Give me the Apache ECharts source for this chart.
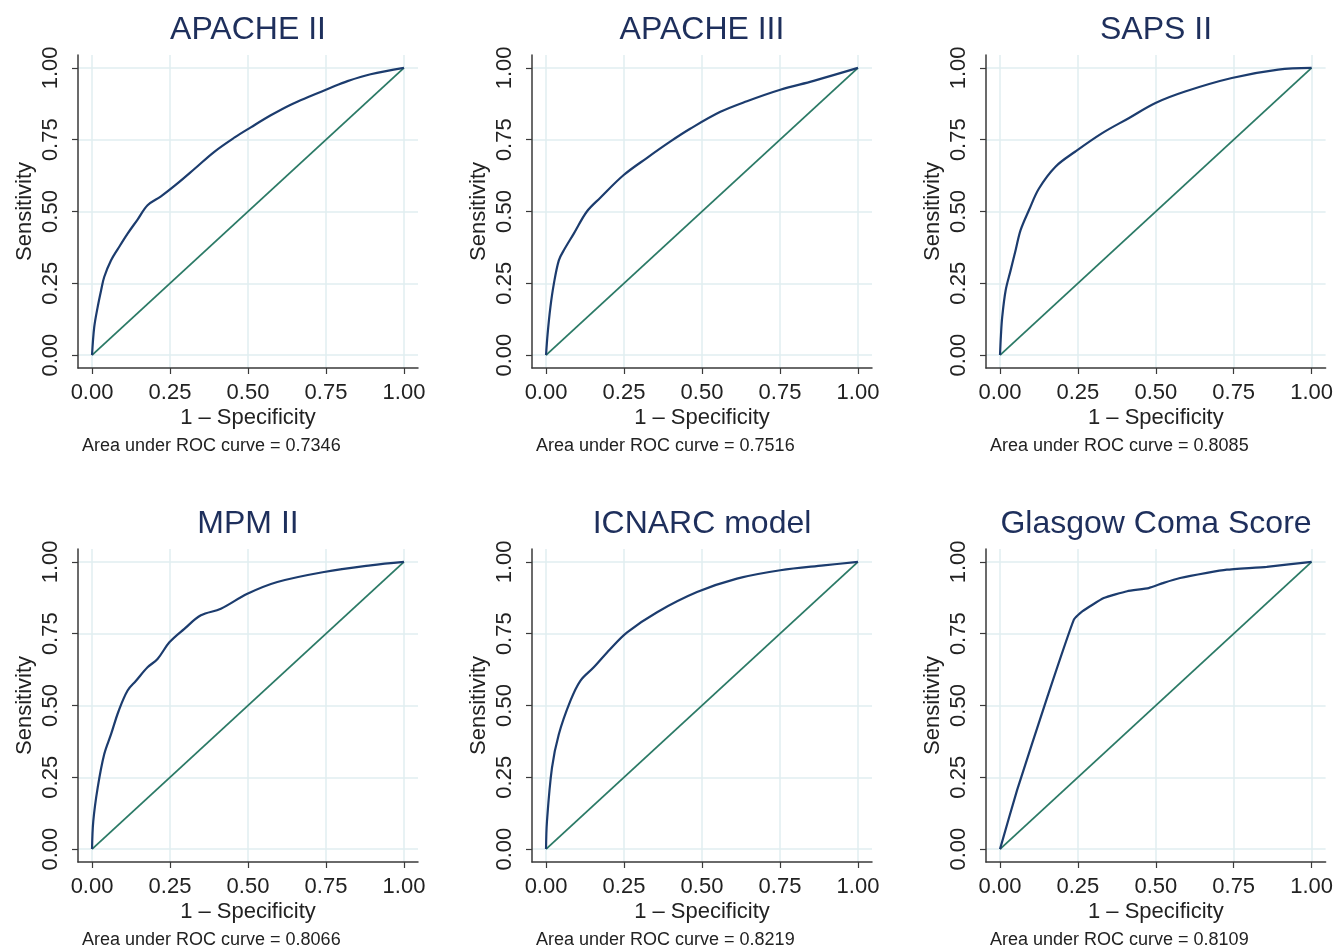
<!DOCTYPE html>
<html>
<head>
<meta charset="utf-8">
<script src="https://cdn.jsdelivr.net/npm/echarts@6/dist/echarts.min.js"></script>
<style>
html,body{margin:0;padding:0;background:#fff;}
#chart{width:1336px;height:949px;}
</style>
</head>
<body>
<div id="chart"></div>
<script>
// ---- data ----
const panelTitles = ["APACHE II", "APACHE III", "SAPS II", "MPM II", "ICNARC model", "Glasgow Coma Score"];
const aucLabels = ["0.7346", "0.7516", "0.8085", "0.8066", "0.8219", "0.8109"];
const tickValues = [0, 0.25, 0.5, 0.75, 1];
const diagX = [0, 1];
const diagY = [0, 1];

const apache2X = [0, 0.007, 0.018, 0.029, 0.039, 0.061, 0.082, 0.114, 0.146, 0.178, 0.221, 0.274, 0.328, 0.392, 0.456, 0.509, 0.573, 0.637, 0.701, 0.765, 0.819, 0.893, 1];
const apache2Y = [0, 0.097, 0.167, 0.225, 0.272, 0.330, 0.368, 0.423, 0.472, 0.522, 0.553, 0.598, 0.648, 0.708, 0.757, 0.793, 0.835, 0.872, 0.902, 0.931, 0.954, 0.978, 1];

const apache3X = [0, 0.005, 0.014, 0.025, 0.041, 0.057, 0.089, 0.131, 0.174, 0.249, 0.324, 0.399, 0.462, 0.559, 0.644, 0.751, 0.858, 1];
const apache3Y = [0, 0.073, 0.167, 0.248, 0.330, 0.365, 0.423, 0.500, 0.548, 0.627, 0.687, 0.744, 0.788, 0.847, 0.884, 0.924, 0.955, 1];

const saps2X = [0, 0.003, 0.007, 0.018, 0.034, 0.05, 0.066, 0.093, 0.125, 0.178, 0.242, 0.328, 0.413, 0.499, 0.594, 0.744, 0.893, 1];
const saps2Y = [0, 0.07, 0.132, 0.225, 0.295, 0.365, 0.435, 0.505, 0.58, 0.656, 0.709, 0.773, 0.825, 0.878, 0.918, 0.965, 0.994, 1];

const mpm2X = [0, 0.004, 0.018, 0.039, 0.061, 0.085, 0.114, 0.141, 0.178, 0.210, 0.248, 0.296, 0.349, 0.413, 0.498, 0.594, 0.744, 0.893, 1];
const mpm2Y = [0, 0.097, 0.213, 0.330, 0.400, 0.48, 0.552, 0.586, 0.633, 0.662, 0.720, 0.767, 0.814, 0.837, 0.889, 0.930, 0.965, 0.988, 1];

const icnarcX = [0, 0.003, 0.019, 0.041, 0.078, 0.110, 0.153, 0.206, 0.260, 0.356, 0.484, 0.612, 0.751, 0.890, 1];
const icnarcY = [0, 0.097, 0.283, 0.400, 0.516, 0.586, 0.633, 0.697, 0.755, 0.825, 0.895, 0.942, 0.971, 0.988, 1];

const gcsX = [0, 0.055, 0.152, 0.237, 0.264, 0.333, 0.408, 0.477, 0.525, 0.578, 0.664, 0.728, 0.856, 1];
const gcsY = [0, 0.206, 0.53, 0.799, 0.828, 0.874, 0.898, 0.909, 0.927, 0.944, 0.962, 0.973, 0.983, 1];

const curvesX = [apache2X, apache3X, saps2X, mpm2X, icnarcX, gcsX];
const curvesY = [apache2Y, apache3Y, saps2Y, mpm2Y, icnarcY, gcsY];

// ---- layout / style ----
const FONT = "'Liberation Sans', Arial, Helvetica, sans-serif";
const TITLE_COLOR = "#1e2f5c";
const CURVE_COLOR = "#1c3c6e";
const DIAG_COLOR = "#2b7a66";
const GRID_COLOR = "#e0eef1";
const AXIS_COLOR = "#3a3a3a";
const TEXT_COLOR = "#222222";

const colStep = 454, rowStep = 494;
const baseLeft = 78, baseTop = 55, gridW = 340, gridH = 313;

const grids = [], xAxes = [], yAxes = [], series = [], graphics = [];
for (let i = 0; i < 6; i++) {
  const c = i % 3, r = Math.floor(i / 3);
  const left = baseLeft + c * colStep, top = baseTop + r * rowStep;
  grids.push({ left: left, top: top, width: gridW, height: gridH, containLabel: false });
  const common = {
    type: 'value', min: -0.045, max: 1.045, gridIndex: i,
    axisLine: { show: true, onZero: false, lineStyle: { color: AXIS_COLOR, width: 1.5 } },
    axisTick: { show: true, inside: false, length: 6, customValues: tickValues, lineStyle: { color: AXIS_COLOR, width: 1.2 } },
    splitLine: { show: true, lineStyle: { color: GRID_COLOR, width: 1.5 } },
    nameLocation: 'middle',
    nameTextStyle: { fontFamily: FONT, fontSize: 22, color: TEXT_COLOR }
  };
  xAxes.push(Object.assign({}, common, {
    name: '1 \u2013 Specificity', nameGap: 39,
    axisLabel: { customValues: tickValues, margin: 14, fontFamily: FONT, fontSize: 22, color: TEXT_COLOR,
      formatter: v => v.toFixed(2) }
  }));
  yAxes.push(Object.assign({}, common, {
    name: 'Sensitivity', nameGap: 42,
    axisLabel: { customValues: tickValues, margin: 16, rotate: 90, fontFamily: FONT, fontSize: 22, color: TEXT_COLOR,
      formatter: v => v.toFixed(2) }
  }));
  series.push({
    type: 'line', xAxisIndex: i, yAxisIndex: i, showSymbol: false, symbol: 'none',
    smooth: i === 5 ? 0.15 : 0.35,
    lineStyle: { color: CURVE_COLOR, width: 2.2 },
    data: curvesX[i].map((x, k) => [x, curvesY[i][k]]), z: 3, silent: true
  });
  series.push({
    type: 'line', xAxisIndex: i, yAxisIndex: i, showSymbol: false, symbol: 'none',
    lineStyle: { color: DIAG_COLOR, width: 1.8 },
    data: diagX.map((x, k) => [x, diagY[k]]), z: 2, silent: true
  });
  const cx = left + 14 + 156;
  graphics.push({
    type: 'text',
    style: { x: cx, y: 30 + r * rowStep, text: panelTitles[i], textAlign: 'center', textVerticalAlign: 'middle',
      font: "32px " + FONT, fill: TITLE_COLOR }
  });
  graphics.push({
    type: 'text',
    style: { x: left + 4, y: 446 + r * rowStep, text: 'Area under ROC curve = ' + aucLabels[i], textAlign: 'left', textVerticalAlign: 'middle',
      font: "18px " + FONT, fill: TEXT_COLOR }
  });
}

const chart = echarts.init(document.getElementById('chart'), null, { renderer: 'canvas' });
chart.setOption({
  animation: false,
  backgroundColor: '#ffffff',
  grid: grids, xAxis: xAxes, yAxis: yAxes, series: series,
  graphic: graphics
});
</script>
</body>
</html>
